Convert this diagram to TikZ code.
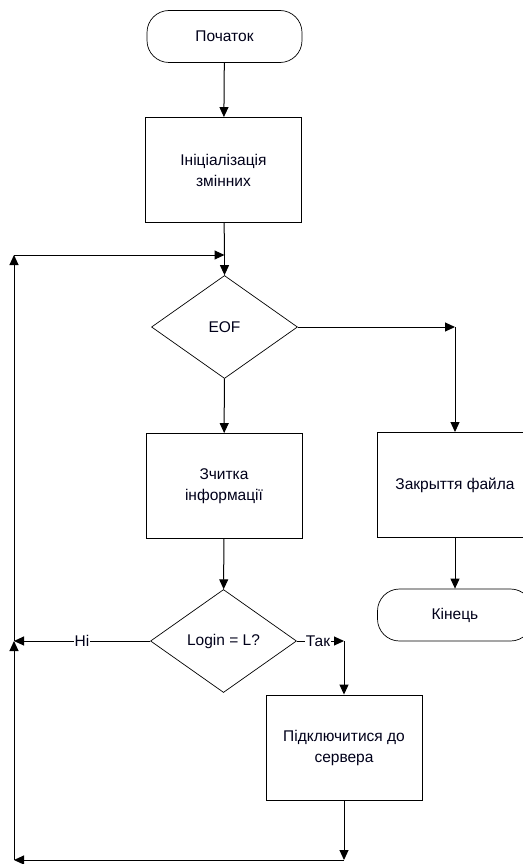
\documentclass[tikz,border=0pt]{standalone}
\usepackage{fontspec}
\setmainfont{Liberation Sans}
\usetikzlibrary{shapes.geometric,arrows.meta}
\begin{document}
\begin{tikzpicture}[x=1pt,y=-1pt,
  every node/.style={font=\fontsize{15.5}{21}\selectfont, text=black!90!blue, align=center},
  term/.style={draw, line width=0.7pt, rounded corners=22pt, minimum width=155pt, minimum height=52pt, inner sep=0pt},
  proc/.style={draw, line width=0.9pt, minimum width=156pt, minimum height=105pt, inner sep=0pt},
  decide/.style={draw, line width=0.7pt, diamond, minimum width=146pt, minimum height=103pt, inner sep=0pt},
  flow/.style={line width=1pt, -{Triangle[length=10pt,width=9pt]}},
  tag/.style={fill=white, inner sep=1pt}
]
\useasboundingbox (0,0) rectangle (522,864);

% blocks
\node[term]   (start)   at (224.5,36.5) {Початок};
\node[proc]   (init)    at (223.5,170)  {Ініціалізація\\змінних};
\node[decide] (eof)     at (224.5,327)  {EOF};
\node[proc]   (read)    at (224,486)    {Зчитка\\інформації};
\node[decide] (login)   at (223.5,641)  {Login = L?};
\node[proc]   (connect) at (344,747.5)  {Підключитися до\\сервера};
\node[proc]   (close)   at (455,485)    {Закрыття файла};
\node[term]   (finish)  at (455,615)    {Кінець};

% helper points of the return loop
\coordinate (merge)  at (224.5,255);
\coordinate (loopT)  at (14,255);
\coordinate (loopM)  at (14,641);
\coordinate (loopB)  at (14,860);
\coordinate (backB)  at (344,860);
\coordinate (eofR)   at (455,327);
\coordinate (yesR)   at (344,641);

% main flow
\draw[flow] (start) -- (init);
\draw[line width=1pt] (init) -- (merge);
\draw[flow] (merge) -- (eof);
\draw[flow] (eof) -- (read);
\draw[flow] (read) -- (login);

% end of file branch
\draw[flow] (eof.east) -- (eofR);
\draw[flow] (eofR) -- (close);
\draw[flow] (close) -- (finish);

% login branches
\draw[flow] (login.east) -- (yesR);
\node[tag] (yes) at (318,641) {Так};
\draw[flow] (yesR) -- (connect);
\draw[flow] (login.west) -- (loopM);
\node[tag] (no) at (82,641) {Ні};

% return to the file check
\draw[flow] (connect) -- (backB);
\draw[flow] (backB) -- (loopB);
\draw[flow] (loopB) -- (loopM);
\draw[flow] (loopM) -- (loopT);
\draw[flow] (loopT) -- (merge);
\end{tikzpicture}
\end{document}
